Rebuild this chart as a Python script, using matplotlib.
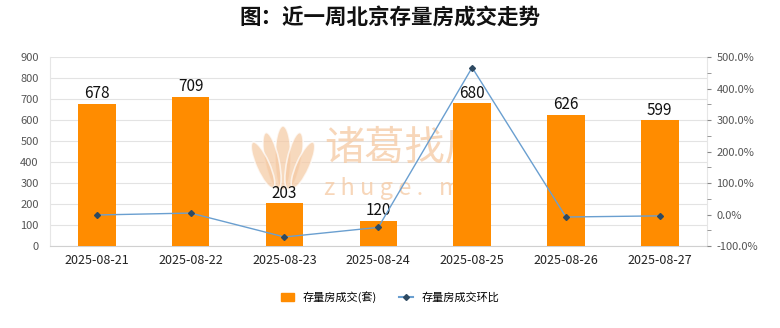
import matplotlib.pyplot as plt
from matplotlib.ticker import FuncFormatter, MultipleLocator
from matplotlib.lines import Line2D
from matplotlib.patches import Patch, Ellipse

plt.rcParams['font.family'] = ['Noto Sans CJK SC', 'DejaVu Sans']

dates = ['2025-08-21', '2025-08-22', '2025-08-23', '2025-08-24',
         '2025-08-25', '2025-08-26', '2025-08-27']
deals = [678, 709, 203, 120, 680, 626, 599]
# day-on-day change, %
change = [-1.5, 4.6, -71.4, -40.9, 466.7, -7.9, -4.3]

bar_color = '#FF8C00'
line_color = '#6A9FD0'
marker_color = '#2E4A62'
wm_color = '#F5C9A2'

fig = plt.figure(figsize=(7.8, 3.28), dpi=100)
ax = fig.add_axes([0.064, 0.25, 0.842, 0.576])
x = range(len(dates))
ax.bar(x, deals, width=0.4, color=bar_color, zorder=3)
for xi, v in zip(x, deals):
    ax.text(xi, v + 8, str(v), ha='center', va='bottom', fontsize=11, color='#111111', zorder=5)

ax.set_xlim(-0.5, len(dates) - 0.5)
ax.set_ylim(0, 900)
ax.yaxis.set_major_locator(MultipleLocator(100))
ax.set_xticks(list(x))
ax.set_xticklabels(dates, fontsize=9, color='#222222')
ax.tick_params(axis='y', length=0, labelsize=8, labelcolor='#555555', pad=8)
ax.tick_params(axis='x', length=0, pad=6)
ax.grid(axis='y', color='#E3E3E3', linewidth=0.8, zorder=0)
for s in ['left', 'right']:
    ax.spines[s].set_color('#E6E6E6')
ax.spines['top'].set_visible(False)
ax.spines['bottom'].set_color('#D0D0D0')

# watermark: petal logo (pixel coords) + brand text, under the bars
logo_x, logo_y = 283, 328 - 190
for dx, w, h, ang in [(0, 16, 64, 0), (-11, 14, 58, 12), (11, 14, 58, -12),
                      (-20, 13, 50, 24), (20, 13, 50, -24)]:
    e = Ellipse((logo_x + dx, logo_y + h / 2), w, h, angle=ang,
                facecolor=wm_color, edgecolor='white', linewidth=1.2, alpha=0.7,
                transform=None, clip_on=False, zorder=2)
    ax.add_artist(e)
ax.text(2.42, 467, '诸葛找房', fontsize=29, color=wm_color, alpha=0.75,
        ha='left', va='center', zorder=2)
ax.text(2.42, 276, 'z h u g e .   m', fontsize=17, color=wm_color, alpha=0.75,
        ha='left', va='center', zorder=2)

ax2 = ax.twinx()
ax2.plot(list(x), change, color=line_color, linewidth=1.0, marker='D',
         markersize=3, markerfacecolor=marker_color, markeredgecolor=marker_color, zorder=4)
ax2.set_ylim(-100, 500)
ax2.yaxis.set_major_locator(MultipleLocator(100))
ax2.yaxis.set_minor_locator(MultipleLocator(50))
ax2.yaxis.set_major_formatter(FuncFormatter(lambda v, p: f'{v:.1f}%'))
ax2.tick_params(axis='y', which='both', length=3, color='#888888', labelsize=8,
                labelcolor='#555555', pad=4)
for s in ax2.spines.values():
    s.set_visible(False)

fig.text(0.5, 0.945, '图：近一周北京存量房成交走势', ha='center', va='center',
         fontsize=15.5, fontweight='bold', color='#111111')

handles = [Patch(color=bar_color, label='存量房成交(套)'),
           Line2D([0], [0], color=line_color, marker='D', markersize=3,
                  markerfacecolor=marker_color, markeredgecolor=marker_color,
                  label='存量房成交环比')]
fig.legend(handles=handles, loc='center', bbox_to_anchor=(0.5, 0.095), ncol=2,
           frameon=False, fontsize=8, handlelength=1.2, handleheight=0.7,
           columnspacing=2.0)

fig.savefig('out.png', dpi=100)
